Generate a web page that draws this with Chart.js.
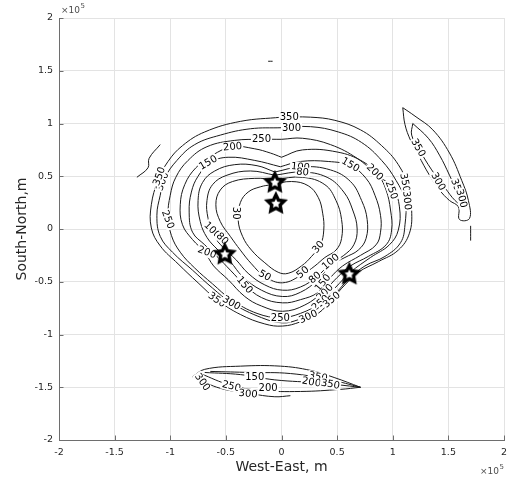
<!DOCTYPE html>
<html>
<head>
<meta charset="utf-8">
<script src="https://cdn.jsdelivr.net/npm/chart.js@4.4.1/dist/chart.umd.min.js"></script>
<style>
  body { margin: 0; background: #fff; }
  #wrap { width: 517px; height: 481px; }
</style>
</head>
<body>
<div id="wrap"><canvas id="contourChart" width="517" height="481"></canvas></div>
<script>
// all coordinates in units of 1e5 m
const xTickLabels = ['-2', '-1.5', '-1', '-0.5', '0', '0.5', '1', '1.5', '2'];
const yTickLabels = ['-2', '-1.5', '-1', '-0.5', '0', '0.5', '1', '1.5', '2'];

// closed contour lines around the stations
const level30 = [[-0.09,0.42],[0.09,0.45],[0.24,0.41],[0.33,0.30],[0.37,0.15],[0.38,-0.01],[0.35,-0.15],[0.27,-0.26],[0.18,-0.35],[0.06,-0.42],[-0.03,-0.41],[-0.15,-0.32],[-0.27,-0.20],[-0.35,-0.07],[-0.39,0.09],[-0.37,0.25],[-0.30,0.35],[-0.19,0.40],[-0.09,0.42]];
const level50 = [[-0.06,0.47],[0.19,0.49],[0.39,0.42],[0.49,0.27],[0.54,0.09],[0.54,-0.09],[0.49,-0.20],[0.39,-0.27],[0.30,-0.35],[0.19,-0.43],[0.01,-0.51],[-0.15,-0.45],[-0.27,-0.33],[-0.37,-0.20],[-0.46,-0.07],[-0.55,0.07],[-0.59,0.23],[-0.55,0.37],[-0.44,0.45],[-0.24,0.48],[-0.06,0.47]];
const level80 = [[-0.06,0.51],[0.18,0.54],[0.41,0.49],[0.56,0.35],[0.64,0.18],[0.68,0.00],[0.65,-0.15],[0.56,-0.25],[0.44,-0.33],[0.32,-0.45],[0.17,-0.55],[0.01,-0.58],[-0.15,-0.53],[-0.30,-0.42],[-0.41,-0.29],[-0.52,-0.18],[-0.61,-0.06],[-0.66,0.10],[-0.67,0.27],[-0.62,0.42],[-0.49,0.51],[-0.28,0.55],[-0.06,0.51]];
const level100 = [[-0.06,0.54],[0.18,0.59],[0.44,0.56],[0.62,0.45],[0.72,0.27],[0.77,0.09],[0.76,-0.09],[0.69,-0.20],[0.57,-0.27],[0.45,-0.34],[0.33,-0.48],[0.17,-0.60],[0.01,-0.64],[-0.18,-0.58],[-0.35,-0.45],[-0.46,-0.31],[-0.57,-0.20],[-0.67,-0.08],[-0.73,0.07],[-0.75,0.27],[-0.71,0.44],[-0.60,0.55],[-0.42,0.61],[-0.22,0.60],[-0.06,0.54]];
const level150 = [[-0.01,0.59],[0.17,0.64],[0.42,0.64],[0.62,0.60],[0.76,0.48],[0.84,0.32],[0.89,0.13],[0.89,-0.03],[0.85,-0.15],[0.71,-0.25],[0.55,-0.35],[0.44,-0.46],[0.33,-0.60],[0.17,-0.67],[0.01,-0.70],[-0.18,-0.65],[-0.33,-0.53],[-0.46,-0.39],[-0.57,-0.27],[-0.69,-0.15],[-0.80,-0.03],[-0.83,0.16],[-0.81,0.35],[-0.75,0.50],[-0.64,0.63],[-0.48,0.68],[-0.24,0.65],[-0.01,0.59]];
const level200 = [[0.00,0.68],[0.19,0.75],[0.50,0.73],[0.73,0.64],[0.87,0.51],[0.94,0.37],[0.98,0.18],[0.99,-0.01],[0.94,-0.15],[0.78,-0.26],[0.62,-0.35],[0.50,-0.46],[0.39,-0.58],[0.21,-0.72],[0.01,-0.78],[-0.18,-0.73],[-0.33,-0.64],[-0.48,-0.48],[-0.61,-0.35],[-0.69,-0.22],[-0.80,-0.10],[-0.89,0.04],[-0.91,0.23],[-0.87,0.42],[-0.77,0.58],[-0.62,0.70],[-0.44,0.78],[-0.24,0.76],[-0.10,0.72],[0.00,0.68]];
const level250 = [[0.00,0.85],[0.19,0.86],[0.44,0.80],[0.68,0.67],[0.86,0.51],[1.00,0.39],[1.06,0.21],[1.05,-0.01],[0.97,-0.15],[0.80,-0.27],[0.62,-0.41],[0.48,-0.56],[0.35,-0.70],[0.17,-0.80],[-0.01,-0.84],[-0.22,-0.80],[-0.45,-0.67],[-0.62,-0.52],[-0.78,-0.37],[-0.91,-0.22],[-0.99,-0.06],[-1.02,0.13],[-1.00,0.32],[-0.95,0.49],[-0.84,0.65],[-0.67,0.78],[-0.42,0.84],[-0.18,0.85],[0.00,0.85]];
const level300 = [[0.00,0.96],[0.26,0.97],[0.51,0.92],[0.72,0.82],[0.90,0.65],[1.03,0.46],[1.11,0.27],[1.11,0.04],[1.07,-0.13],[0.93,-0.26],[0.75,-0.35],[0.60,-0.48],[0.46,-0.64],[0.30,-0.79],[0.15,-0.86],[0.01,-0.89],[-0.18,-0.84],[-0.45,-0.70],[-0.62,-0.56],[-0.80,-0.39],[-0.98,-0.22],[-1.09,-0.07],[-1.12,0.13],[-1.09,0.32],[-1.05,0.48],[-0.94,0.65],[-0.78,0.80],[-0.55,0.89],[-0.28,0.95],[0.00,0.96]];
const level350 = [[0.00,1.06],[0.26,1.06],[0.48,1.03],[0.71,0.94],[0.90,0.79],[1.05,0.61],[1.14,0.40],[1.17,0.18],[1.15,-0.04],[1.05,-0.20],[0.87,-0.31],[0.69,-0.41],[0.57,-0.53],[0.45,-0.67],[0.33,-0.80],[0.17,-0.88],[0.01,-0.92],[-0.15,-0.90],[-0.37,-0.81],[-0.58,-0.67],[-0.75,-0.51],[-0.93,-0.33],[-1.09,-0.16],[-1.17,0.01],[-1.17,0.23],[-1.11,0.46],[-1.02,0.64],[-0.89,0.79],[-0.69,0.92],[-0.37,1.02],[0.00,1.06]];

// loose pieces away from the centre
const westPiece = [[-1.30,0.49],[-1.20,0.58],[-1.19,0.67],[-1.09,0.80]];
const northPiece = [[-0.12,1.59],[-0.08,1.59]];
const east350 = [[1.09,1.15],[1.20,1.07],[1.36,0.94],[1.51,0.72],[1.62,0.46],[1.68,0.27],[1.69,0.10],[1.60,0.09],[1.59,0.21],[1.51,0.27],[1.42,0.37],[1.33,0.51],[1.23,0.70],[1.16,0.84],[1.11,0.99],[1.09,1.15]];
const east300 = [[1.18,1.00],[1.32,0.86],[1.42,0.70],[1.51,0.51],[1.59,0.32],[1.62,0.23],[1.56,0.27],[1.47,0.39],[1.35,0.56],[1.24,0.75],[1.17,0.89],[1.18,1.00]];
const eastPiece = [[1.70,0.03],[1.70,-0.11]];
const south350 = [[-0.80,-1.40],[-0.69,-1.33],[-0.37,-1.30],[-0.01,-1.30],[0.26,-1.34],[0.48,-1.41],[0.71,-1.50]];
const south300 = [[-0.78,-1.41],[-0.55,-1.51],[-0.28,-1.56],[-0.06,-1.59],[0.08,-1.58]];
const south250 = [[-0.73,-1.37],[-0.46,-1.48],[-0.19,-1.53],[0.17,-1.54],[0.53,-1.52],[0.71,-1.50]];
const south200 = [[-0.69,-1.36],[-0.37,-1.38],[-0.06,-1.43],[0.35,-1.46],[0.71,-1.50]];
const south150 = [[-0.64,-1.35],[-0.28,-1.36],[0.08,-1.37],[0.44,-1.43],[0.71,-1.50]];

// stations
const starX = [-0.06, -0.05, -0.51, 0.61];
const starY = [0.44, 0.24, -0.24, -0.43];

// contour labels: text, position, angle (deg)
const contourLabels = [
  {t:'350', x:0.07, y:1.06, a:0}, {t:'300', x:0.09, y:0.96, a:0},
  {t:'250', x:-0.18, y:0.85, a:0}, {t:'200', x:-0.44, y:0.78, a:-5},
  {t:'150', x:-0.66, y:0.63, a:-30}, {t:'100', x:0.17, y:0.59, a:5},
  {t:'80', x:0.19, y:0.54, a:5}, {t:'150', x:0.62, y:0.61, a:30},
  {t:'200', x:0.84, y:0.54, a:45}, {t:'250', x:0.99, y:0.37, a:70},
  {t:'350', x:1.11, y:0.44, a:80}, {t:'300', x:1.13, y:0.27, a:85},
  {t:'300', x:-1.07, y:0.45, a:-70}, {t:'350', x:-1.10, y:0.50, a:-70},
  {t:'250', x:-1.02, y:0.09, a:70}, {t:'30', x:-0.41, y:0.15, a:90},
  {t:'100', x:-0.62, y:-0.01, a:45}, {t:'80', x:-0.53, y:-0.09, a:45},
  {t:'200', x:-0.67, y:-0.22, a:20}, {t:'150', x:-0.33, y:-0.53, a:50},
  {t:'50', x:-0.15, y:-0.44, a:30}, {t:'350', x:-0.58, y:-0.67, a:35},
  {t:'300', x:-0.45, y:-0.70, a:30}, {t:'250', x:-0.01, y:-0.84, a:0},
  {t:'30', x:0.33, y:-0.17, a:-50}, {t:'50', x:0.19, y:-0.41, a:-40},
  {t:'80', x:0.30, y:-0.46, a:-40}, {t:'100', x:0.44, y:-0.31, a:-40},
  {t:'150', x:0.37, y:-0.51, a:-50}, {t:'200', x:0.39, y:-0.60, a:-45},
  {t:'250', x:0.35, y:-0.70, a:-40}, {t:'300', x:0.24, y:-0.83, a:-25},
  {t:'350', x:0.45, y:-0.67, a:-40},
  {t:'350', x:1.23, y:0.77, a:60}, {t:'300', x:1.41, y:0.45, a:60},
  {t:'350', x:1.58, y:0.39, a:70}, {t:'300', x:1.62, y:0.29, a:75},
  {t:'150', x:-0.24, y:-1.40, a:0}, {t:'250', x:-0.45, y:-1.49, a:15},
  {t:'200', x:-0.12, y:-1.51, a:0}, {t:'300', x:-0.30, y:-1.56, a:5},
  {t:'300', x:-0.71, y:-1.45, a:55}, {t:'350', x:0.33, y:-1.40, a:10},
  {t:'200', x:0.27, y:-1.45, a:10}, {t:'350', x:0.44, y:-1.47, a:10}
];

const contourSets = [level30, level50, level80, level100, level150, level200, level250, level300, level350,
  westPiece, northPiece, east350, east300, eastPiece, south350, south300, south250, south200, south150];

function makeStar() {
  const c = document.createElement('canvas');
  c.width = 26; c.height = 26;
  const g = c.getContext('2d');
  g.beginPath();
  for (let k = 0; k < 10; k++) {
    const r = k % 2 === 0 ? 8.8 : 4.4;
    const ang = -Math.PI / 2 + k * Math.PI / 5;
    const px = 13 + r * Math.cos(ang), py = 13 + r * Math.sin(ang);
    if (k === 0) g.moveTo(px, py); else g.lineTo(px, py);
  }
  g.closePath();
  g.fillStyle = '#fff';
  g.fill();
  g.lineWidth = 3.4;
  g.lineJoin = 'miter';
  g.strokeStyle = '#000';
  g.stroke();
  return c;
}

const datasets = contourSets.map(pts => ({
  data: pts.map(p => ({x: p[0], y: p[1]})),
  showLine: true,
  pointRadius: 0,
  borderColor: '#1a1a1a',
  borderWidth: 1,
  tension: 0.4,
  fill: false,
  order: 1
}));
const starIndex = datasets.length;
datasets.push({
  data: starX.map((x, i) => ({x: x, y: starY[i]})),
  showLine: false,
  pointStyle: makeStar(),
  pointRadius: 10,
  order: 0
});

const tickFont = {family: 'DejaVu Sans', size: 9.5};
const axisColor = '#6e6e6e';

// labels go on top of the lines but under the stars
const contourLabelPlugin = {
  id: 'contourLabels',
  beforeDatasetDraw(chart, args) {
    if (args.index !== starIndex) return;
    const ctx = chart.ctx;
    const xs = chart.scales.x, ys = chart.scales.y;
    ctx.save();
    ctx.font = '10px "DejaVu Sans"';
    ctx.textAlign = 'center';
    ctx.textBaseline = 'middle';
    contourLabels.forEach(l => {
      ctx.save();
      ctx.translate(xs.getPixelForValue(l.x), ys.getPixelForValue(l.y));
      ctx.rotate(l.a * Math.PI / 180);
      const w = ctx.measureText(l.t).width;
      ctx.fillStyle = '#fff';
      ctx.fillRect(-w / 2 - 1, -5, w + 2, 10);
      ctx.fillStyle = '#000';
      ctx.fillText(l.t, 0, 0.5);
      ctx.restore();
    });
    ctx.restore();
  },
  afterDraw(chart) {
    const ctx = chart.ctx;
    const xs = chart.scales.x, ys = chart.scales.y;
    const area = chart.chartArea;
    ctx.save();
    // inward tick marks
    ctx.strokeStyle = axisColor;
    ctx.lineWidth = 1;
    ctx.beginPath();
    xs.ticks.forEach(t => {
      const px = Math.round(xs.getPixelForValue(t.value)) + 0.5;
      ctx.moveTo(px, area.bottom);
      ctx.lineTo(px, area.bottom - 4.5);
    });
    ys.ticks.forEach(t => {
      const py = Math.round(ys.getPixelForValue(t.value)) + 0.5;
      ctx.moveTo(area.left, py);
      ctx.lineTo(area.left + 4.5, py);
    });
    ctx.stroke();
    // exponent labels
    ctx.fillStyle = '#4d4d4d';
    ctx.textBaseline = 'alphabetic';
    ctx.textAlign = 'left';
    const drawExp = (x0, y0) => {
      ctx.font = '9px "DejaVu Sans"';
      ctx.fillText('\u00d710', x0, y0);
      const w = ctx.measureText('\u00d710').width;
      ctx.font = '7px "DejaVu Sans"';
      ctx.fillText('5', x0 + w + 0.5, y0 - 5);
    };
    drawExp(area.left + 2, area.top - 5);
    drawExp(area.right - 24, 474);
    ctx.restore();
  }
};

new Chart(document.getElementById('contourChart'), {
  type: 'scatter',
  data: { datasets: datasets },
  options: {
    responsive: false,
    animation: false,
    layout: { padding: { top: 18, right: 13, left: 0, bottom: 0 } },
    plugins: { legend: { display: false }, tooltip: { enabled: false } },
    scales: {
      x: {
        type: 'linear', min: -2, max: 2,
        afterFit: s => { s.height = 41; },
        ticks: { stepSize: 0.5, callback: (v, i) => xTickLabels[i], font: tickFont, color: '#262626', padding: 7, maxRotation: 0 },
        grid: { color: '#e3e3e3', drawTicks: false },
        border: { color: axisColor },
        title: { display: true, text: 'West-East, m', font: {family: 'DejaVu Sans', size: 14}, color: '#262626', padding: {top: 0, bottom: 5} }
      },
      y: {
        type: 'linear', min: -2, max: 2,
        afterFit: s => { s.width = 59; },
        ticks: { stepSize: 0.5, callback: (v, i) => yTickLabels[i], font: tickFont, color: '#262626', padding: 6 },
        grid: { color: '#e3e3e3', drawTicks: false },
        border: { color: axisColor },
        title: { display: true, text: 'South-North,m', font: {family: 'DejaVu Sans', size: 14}, color: '#262626', padding: {top: 14, bottom: 0} }
      }
    }
  },
  plugins: [contourLabelPlugin]
});
</script>
</body>
</html>
